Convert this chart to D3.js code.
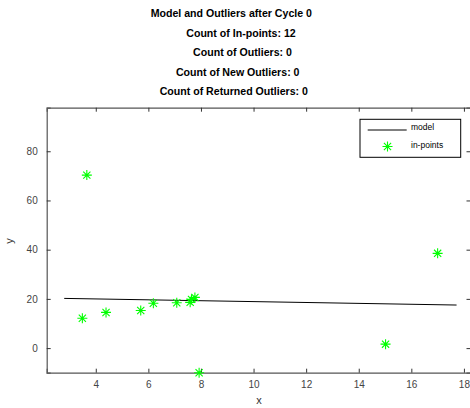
<!DOCTYPE html>
<html><head><meta charset="utf-8">
<script src="https://cdn.jsdelivr.net/npm/d3@7"></script>
<style>body{margin:0;background:#fff;} svg{display:block;font-family:"Liberation Sans",Arial,sans-serif;}</style>
</head><body>
<script>
const titles = ["Model and Outliers after Cycle 0","Count of In-points: 12","Count of Outliers: 0","Count of New Outliers: 0","Count of Returned Outliers: 0"];
const pointX = [3.66, 3.49, 4.39, 5.71, 6.19, 7.08, 7.59, 7.64, 7.77, 7.93, 15.02, 17.0];
const pointY = [70.3, 12.1, 14.5, 15.3, 18.2, 18.4, 18.6, 19.8, 20.6, -10.0, 1.6, 38.5];
const modelX = [2.80, 17.72];
const modelY = [20.2, 17.5];
const xTicks = [4, 6, 8, 10, 12, 14, 16, 18];
const yTicks = [0, 20, 40, 60, 80];
const legendLabels = ["model", "in-points"];

// layout
const titleCenters = [231.3, 241, 242.5, 237.7, 233.8];
const W = 470, H = 408;
const L = 46.7, R = 470.5, T = 107.7, B = 372.7;
const svg = d3.select("body").append("svg").attr("width", W).attr("height", H);
const x = d3.scaleLinear().domain([2.134, 18.25]).range([L, R]);
const y = d3.scaleLinear().domain([-10, 97.7]).range([B, T]);

svg.selectAll("text.title").data(titles).enter().append("text")
  .attr("x", (d, i) => titleCenters[i]).attr("y", (d, i) => 17 + i * 19.6)
  .attr("text-anchor", "middle").attr("font-weight", "bold").attr("font-size", 10.6)
  .attr("fill", "#000").text(d => d);

const axisColor = "#555";
const tickLen = 4;
const gx = svg.append("g").attr("transform", `translate(0,${B})`)
  .call(d3.axisBottom(x).tickValues(xTicks).tickSize(-tickLen).tickPadding(8).tickFormat(d3.format("d")));
const gxt = svg.append("g").attr("transform", `translate(0,${T})`)
  .call(d3.axisTop(x).tickValues(xTicks).tickSize(-tickLen).tickFormat(""));
const gy = svg.append("g").attr("transform", `translate(${L},0)`)
  .call(d3.axisLeft(y).tickValues(yTicks).tickSize(-tickLen).tickPadding(9).tickFormat(d3.format("d")));
const gyr = svg.append("g").attr("transform", `translate(${R},0)`)
  .call(d3.axisRight(y).tickValues(yTicks).tickSize(-tickLen).tickFormat(""));
[gx, gxt, gy, gyr].forEach(g => {
  g.select(".domain").attr("stroke", axisColor).attr("stroke-width", 1.2);
  g.selectAll(".tick line").attr("stroke", "#333");
  g.selectAll(".tick text").attr("font-size", 10).attr("fill", "#444")
    .attr("font-family", "Liberation Sans, Arial, sans-serif");
});

svg.append("text").attr("x", 259).attr("y", 404).attr("text-anchor", "middle")
  .attr("font-size", 11).attr("fill", "#333").text("x");
svg.append("text").attr("transform", "translate(13,241) rotate(-90)").attr("text-anchor", "middle")
  .attr("font-size", 11).attr("fill", "#333").text("y");

const line = d3.line().x(d => x(d[0])).y(d => y(d[1]));
svg.append("path").datum(modelX.map((v, i) => [v, modelY[i]]))
  .attr("d", line).attr("fill", "none").attr("stroke", "#000").attr("stroke-width", 1);

function star(g, cx, cy, r) {
  const d = r * 0.72;
  const p = `M${cx - r},${cy}H${cx + r}M${cx},${cy - r}V${cy + r}M${cx - d},${cy - d}L${cx + d},${cy + d}M${cx - d},${cy + d}L${cx + d},${cy - d}`;
  g.append("path").attr("d", p).attr("stroke", "#00ff00").attr("stroke-width", 1.1).attr("fill", "none");
}
const pg = svg.append("g");
pointX.forEach((v, i) => star(pg, x(v), y(pointY[i]), 5));

const lg = svg.append("g");
lg.append("rect").attr("x", 360).attr("y", 119.3).attr("width", 100.7).attr("height", 38)
  .attr("fill", "#fff").attr("stroke", "#000").attr("stroke-width", 1);
lg.append("line").attr("x1", 367.7).attr("x2", 406.7).attr("y1", 130).attr("y2", 130)
  .attr("stroke", "#000").attr("stroke-width", 1);
star(lg, 387.5, 146.5, 5);
lg.selectAll("text").data(legendLabels).enter().append("text")
  .attr("x", 411).attr("y", (d, i) => 130 + i * 17.5)
  .attr("font-size", 8.5).attr("fill", "#000").text(d => d);
</script>
</body></html>
